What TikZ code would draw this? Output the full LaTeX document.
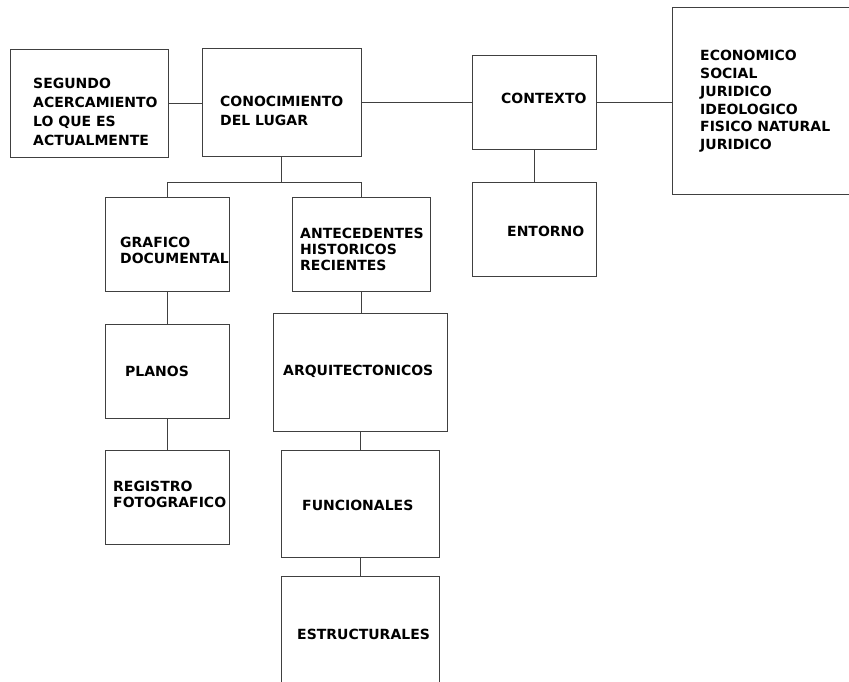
\documentclass[tikz,border=0pt]{standalone}
\usepackage{fontspec}
\setmainfont{DejaVu Sans}
\begin{document}
\begin{tikzpicture}[x=1pt,y=-1pt,
  box/.style={draw=black!75, line width=0.8pt, inner sep=0pt, outer sep=0pt},
  link/.style={draw=black!75, line width=0.8pt},
  lbl/.style={anchor=west, align=left, inner sep=0pt, font=\fontsize{14}{19}\selectfont\bfseries},
  tight/.style={font=\fontsize{14}{16}\selectfont\bfseries}]
\useasboundingbox (0,0) rectangle (849,681);
\clip (0,0) rectangle (849,681);
% boxes
\node[box, minimum width=158, minimum height=108] (seg) at (89,103) {};
\node[box, minimum width=159, minimum height=108] (con) at (281.5,102) {};
\node[box, minimum width=124, minimum height=94] (ctx) at (534,102) {};
\node[box, minimum width=198, minimum height=187] (big) at (771,100.5) {};
\node[box, minimum width=124, minimum height=94] (ent) at (534,229) {};
\node[box, minimum width=124, minimum height=94] (gra) at (167,244) {};
\node[box, minimum width=138, minimum height=94] (ant) at (361,244) {};
\node[box, minimum width=124, minimum height=94] (pla) at (167,371) {};
\node[box, minimum width=124, minimum height=94] (reg) at (167,497) {};
\node[box, minimum width=174, minimum height=118] (arq) at (360,372) {};
\node[box, minimum width=158, minimum height=107] (fun) at (360,503.5) {};
\node[box, minimum width=158, minimum height=124] (est) at (360,638) {};
% texts
\node[lbl] (tseg) at (33,111.5) {SEGUNDO\\ACERCAMIENTO\\LO QUE ES\\ACTUALMENTE};
\node[lbl] (tcon) at (220,111) {CONOCIMIENTO\\DEL LUGAR};
\node[lbl] (tctx) at (501,98) {CONTEXTO};
\node[lbl, font=\fontsize{14}{17.8}\selectfont\bfseries] (tbig) at (700,101.5) {ECONOMICO\\SOCIAL\\JURIDICO\\IDEOLOGICO\\FISICO NATURAL\\JURIDICO};
\node[lbl] (tent) at (507,231) {ENTORNO};
\node[lbl, tight] (tgra) at (120,250.5) {GRAFICO\\DOCUMENTAL};
\node[lbl, tight] (tant) at (300,249) {ANTECEDENTES\\HISTORICOS\\RECIENTES};
\node[lbl] (tpla) at (125,371) {PLANOS};
\node[lbl, tight] (treg) at (113,494.5) {REGISTRO\\FOTOGRAFICO};
\node[lbl] (tarq) at (283,371) {ARQUITECTONICOS};
\node[lbl] (tfun) at (302,505) {FUNCIONALES};
\node[lbl] (test) at (297,634) {ESTRUCTURALES};
% connectors
\coordinate (jn) at (0,182);
\draw[link] (seg.east) -- (seg.east -| con.west);
\draw[link] (con.east |- ctx.west) -- (ctx.west);
\draw[link] (ctx.east) -- (ctx.east -| big.west);
\draw[link] (ctx.south) -- (ent.north);
\draw[link] (con.south) -- (con.south |- jn);
\draw[link] (gra.north) -- (gra.north |- jn) -| (ant.north);
\draw[link] (gra.south) -- (pla.north);
\draw[link] (pla.south) -- (reg.north);
\draw[link] (ant.south) -- (ant.south |- arq.north);
\draw[link] (arq.south) -- (fun.north);
\draw[link] (fun.south) -- (est.north);
\end{tikzpicture}
\end{document}
